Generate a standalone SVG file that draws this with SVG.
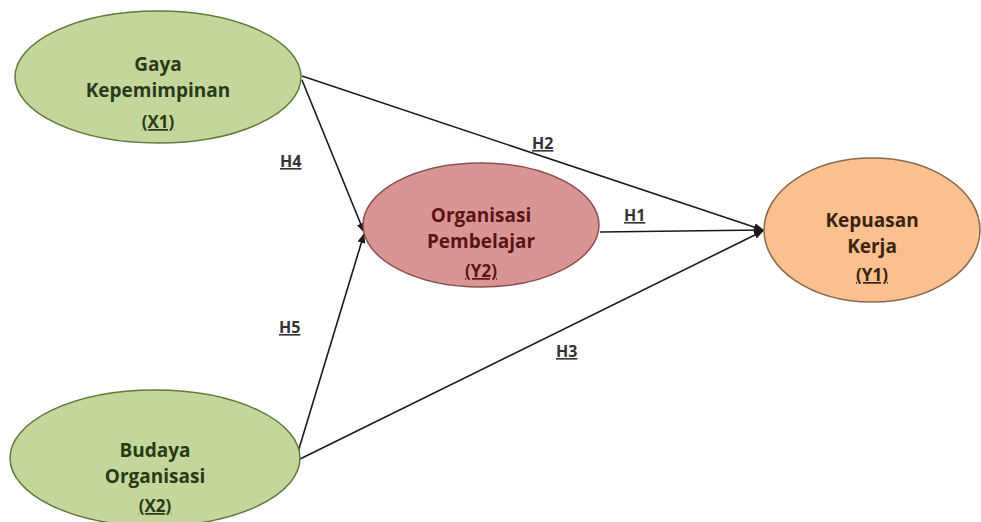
<svg xmlns="http://www.w3.org/2000/svg" width="981" height="522" viewBox="0 0 981 522">
<defs>
<marker id="arr" markerWidth="10" markerHeight="8" refX="9" refY="4" orient="auto" markerUnits="userSpaceOnUse">
<path d="M0,0 L10,4 L0,8 Z" fill="#1a1a1a"/>
</marker>
<style>
.lbl{font-family:"Open Sans","Liberation Sans",sans-serif;font-weight:bold;font-size:19px;text-anchor:middle}
.code{font-family:"Open Sans","Liberation Sans",sans-serif;font-weight:bold;font-size:17px;text-anchor:middle;text-decoration:underline}
.h{font-family:"Open Sans","Liberation Sans",sans-serif;font-weight:bold;font-size:16px;fill:#333;text-decoration:underline}
.edge{stroke:#1a1a1a;stroke-width:1.6;fill:none}
</style>
</defs>
<rect width="981" height="522" fill="#fff"/>
<g id="connectors">
<line class="edge" x1="302" y1="80" x2="364" y2="232" marker-end="url(#arr)"/>
<line class="edge" x1="302" y1="76" x2="763" y2="230" marker-end="url(#arr)"/>
<line class="edge" x1="298" y1="452" x2="364" y2="234" marker-end="url(#arr)"/>
<line class="edge" x1="298" y1="460" x2="763" y2="231" marker-end="url(#arr)"/>
<line class="edge" x1="600" y1="232" x2="763" y2="230" marker-end="url(#arr)"/>
<text class="h" x="280" y="167">H4</text>
<text class="h" x="532" y="149">H2</text>
<text class="h" x="624" y="221">H1</text>
<text class="h" x="279" y="333">H5</text>
<text class="h" x="556" y="357">H3</text>
</g>
<g id="gaya">
<ellipse cx="158" cy="77" rx="143" ry="66" fill="#c3d69b" stroke="#5f7a3a" stroke-width="1.5"/>
<text class="lbl" x="158" y="71" fill="#2a3a18">Gaya</text>
<text class="lbl" x="158" y="97" fill="#2a3a18">Kepemimpinan</text>
<text class="code" x="158" y="128" fill="#2a3a18">(X1)</text>
</g>
<g id="budaya">
<ellipse cx="155" cy="458" rx="145" ry="68" fill="#c3d69b" stroke="#5f7a3a" stroke-width="1.5"/>
<text class="lbl" x="155" y="457" fill="#2a3a18">Budaya</text>
<text class="lbl" x="155" y="483" fill="#2a3a18">Organisasi</text>
<text class="code" x="155" y="512" fill="#2a3a18">(X2)</text>
</g>
<g id="organisasi">
<ellipse cx="481" cy="225" rx="118" ry="62" fill="#d99594" stroke="#8a5050" stroke-width="1.5"/>
<text class="lbl" x="481" y="222" fill="#5a1414">Organisasi</text>
<text class="lbl" x="481" y="248" fill="#5a1414">Pembelajar</text>
<text class="code" x="481" y="277" fill="#5a1414">(Y2)</text>
</g>
<g id="kepuasan">
<ellipse cx="872" cy="230" rx="108" ry="72" fill="#fac08f" stroke="#8a6a4a" stroke-width="1.5"/>
<text class="lbl" x="872" y="227" fill="#3a2410">Kepuasan</text>
<text class="lbl" x="872" y="253" fill="#3a2410">Kerja</text>
<text class="code" x="872" y="281" fill="#3a2410">(Y1)</text>
</g>
</svg>
